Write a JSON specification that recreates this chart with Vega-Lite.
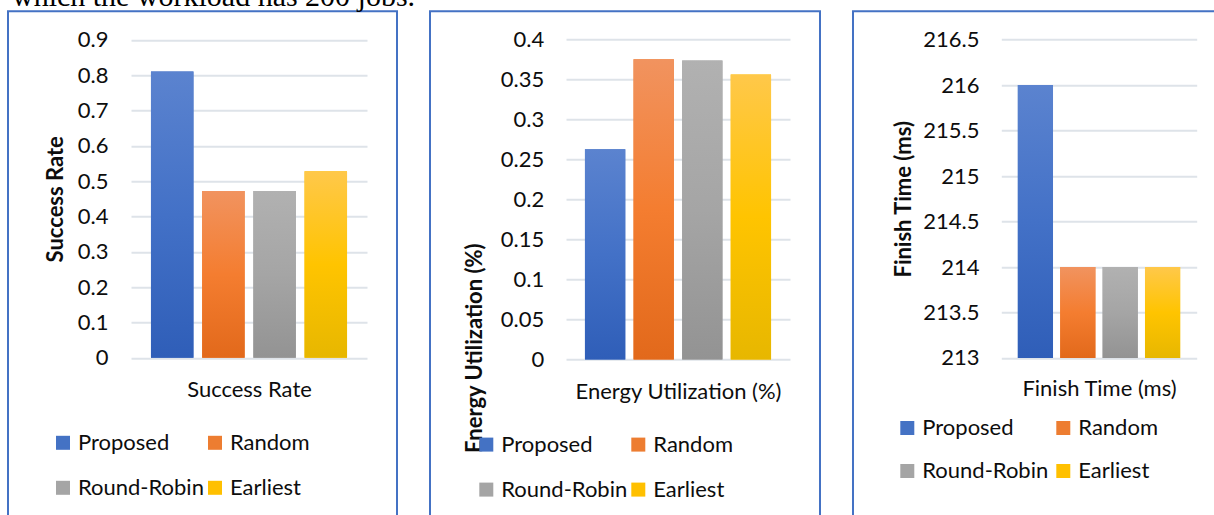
{
  "$schema": "https://vega.github.io/schema/vega-lite/v6.json",
  "padding": {"left": 7, "top": -18.7, "right": 0, "bottom": 0},
  "background": "white",
  "title": {"text": "which the workload has 200 jobs.", "font": "Liberation Serif", "fontSize": 30, "fontWeight": "normal", "color": "#000000", "anchor": "start", "baseline": "top", "offset": -1.3, "dx": 5},
  "datasets": {
    "rows": [
      {"metric": "Success Rate", "method": "Proposed", "value": 0.81},
      {"metric": "Success Rate", "method": "Random", "value": 0.472},
      {"metric": "Success Rate", "method": "Round-Robin", "value": 0.472},
      {"metric": "Success Rate", "method": "Earliest", "value": 0.528},
      {"metric": "Energy Utilization (%)", "method": "Proposed", "value": 0.263},
      {"metric": "Energy Utilization (%)", "method": "Random", "value": 0.3755},
      {"metric": "Energy Utilization (%)", "method": "Round-Robin", "value": 0.374},
      {"metric": "Energy Utilization (%)", "method": "Earliest", "value": 0.3565},
      {"metric": "Finish Time (ms)", "method": "Proposed", "value": 216},
      {"metric": "Finish Time (ms)", "method": "Random", "value": 214},
      {"metric": "Finish Time (ms)", "method": "Round-Robin", "value": 214},
      {"metric": "Finish Time (ms)", "method": "Earliest", "value": 214}
    ]
  },
  "resolve": {"scale": {"color": "independent", "x": "independent", "y": "independent"}, "legend": {"color": "independent"}, "axis": {"x": "independent", "y": "independent"}},
  "spacing": 31,
  "config": {
    "font": "Lato",
    "view": {"stroke": "#4472C4", "strokeWidth": 2},
    "axis": {
      "labelFont": "Lato", "labelFontSize": 22, "labelColor": "#0d0d0d",
      "titleFont": "Lato", "titleFontSize": 22, "titleColor": "#0d0d0d",
      "gridColor": "#DEE3E9", "gridWidth": 2, "domain": false, "ticks": false
    },
    "legend": {
      "labelFont": "Lato", "labelFontSize": 22, "labelColor": "#0d0d0d", "labelLimit": 300,
      "symbolType": "square", "symbolSize": 196, "symbolStrokeWidth": 0, "symbolOpacity": 1,
      "labelOffset": 4, "rowPadding": 23, "padding": 0, "direction": "horizontal"
    }
  },
  "hconcat": [
    {
      "width": 389, "height": 520,
      "data": {"name": "rows"},
      "transform": [{"filter": "datum.metric === 'Success Rate'"}],
      "encoding": {
        "x": {"field": "method", "type": "nominal", "sort": ["Proposed", "Random", "Round-Robin", "Earliest"],
          "scale": {"range": [123, 359], "paddingInner": 0.17, "paddingOuter": 0.39},
          "axis": {"title": "Success Rate", "labels": false, "offset": -173.5, "titleY": 31.5, "titleBaseline": "middle", "titleFontWeight": "normal"}},
        "y": {"field": "value", "type": "quantitative",
          "scale": {"domain": [0, 0.9], "range": [346.5, 28.5], "nice": false},
          "axis": {"title": "Success Rate", "values": [0, 0.1, 0.2, 0.3, 0.4, 0.5, 0.6, 0.7, 0.8, 0.9], "labelExpr": "'' + datum.value", "offset": -100, "labelPadding": 0, "titleX": -53, "titleBaseline": "middle", "titleFontWeight": "bold"}}
      },
      "layer": [
        {"mark": {"type": "bar"},
         "encoding": {"color": {"field": "method", "type": "nominal",
           "scale": {"domain": ["Proposed", "Random", "Round-Robin", "Earliest"], "range": ["#4472C4", "#ED7D31", "#A5A5A5", "#FFC000"]},
           "legend": {"title": null, "orient": "none", "direction": "horizontal", "legendX": 44, "legendY": 420.5, "columns": 2, "columnPadding": 0,
             "encode": {"symbols": {"update": {"fill": {"signal": "datum.value === 'Proposed' ? {gradient: 'linear', x1: 0, y1: 0, x2: 0, y2: 1, stops: [{offset: 0, color: '#5B83CF'}, {offset: 1, color: '#2F5EB8'}]} : datum.value === 'Random' ? {gradient: 'linear', x1: 0, y1: 0, x2: 0, y2: 1, stops: [{offset: 0, color: '#F1935F'}, {offset: 1, color: '#E2691B'}]} : datum.value === 'Round-Robin' ? {gradient: 'linear', x1: 0, y1: 0, x2: 0, y2: 1, stops: [{offset: 0, color: '#B1B1B1'}, {offset: 1, color: '#939393'}]} : {gradient: 'linear', x1: 0, y1: 0, x2: 0, y2: 1, stops: [{offset: 0, color: '#FFC84A'}, {offset: 1, color: '#E7B700'}]}"}}}}}}}},
        {"transform": [{"filter": "datum.method === 'Proposed'"}],
         "mark": {"type": "bar", "color": {"gradient": "linear", "x1": 0, "y1": 0, "x2": 0, "y2": 1, "stops": [{"offset": 0, "color": "#5B83CF"}, {"offset": 0.5, "color": "#4371C7"}, {"offset": 1, "color": "#2F5EB8"}]}}},
        {"transform": [{"filter": "datum.method === 'Random'"}],
         "mark": {"type": "bar", "color": {"gradient": "linear", "x1": 0, "y1": 0, "x2": 0, "y2": 1, "stops": [{"offset": 0, "color": "#F1935F"}, {"offset": 0.5, "color": "#F47D30"}, {"offset": 1, "color": "#E2691B"}]}}},
        {"transform": [{"filter": "datum.method === 'Round-Robin'"}],
         "mark": {"type": "bar", "color": {"gradient": "linear", "x1": 0, "y1": 0, "x2": 0, "y2": 1, "stops": [{"offset": 0, "color": "#B1B1B1"}, {"offset": 0.5, "color": "#A5A5A5"}, {"offset": 1, "color": "#939393"}]}}},
        {"transform": [{"filter": "datum.method === 'Earliest'"}],
         "mark": {"type": "bar", "color": {"gradient": "linear", "x1": 0, "y1": 0, "x2": 0, "y2": 1, "stops": [{"offset": 0, "color": "#FFC84A"}, {"offset": 0.5, "color": "#FFC400"}, {"offset": 1, "color": "#E7B700"}]}}}
      ]
    },
    {
      "width": 390, "height": 520,
      "data": {"name": "rows"},
      "transform": [{"filter": "datum.metric === 'Energy Utilization (%)'"}],
      "encoding": {
        "x": {"field": "method", "type": "nominal", "sort": ["Proposed", "Random", "Round-Robin", "Earliest"],
          "scale": {"range": [136, 360], "paddingInner": 0.17, "paddingOuter": 0.39},
          "axis": {"title": "Energy Utilization (%)", "labels": false, "offset": -171.7, "titleY": 31.7, "titleBaseline": "middle", "titleFontWeight": "normal"}},
        "y": {"field": "value", "type": "quantitative",
          "scale": {"domain": [0, 0.4], "range": [348.3, 28.3], "nice": false},
          "axis": {"title": "Energy Utilization (%)", "values": [0, 0.05, 0.1, 0.15, 0.2, 0.25, 0.3, 0.35, 0.4], "labelExpr": "'' + datum.value", "offset": -113.7, "labelPadding": 0, "titleX": -69.7, "titleY": 336.5, "titleBaseline": "middle", "titleFontWeight": "bold"}}
      },
      "layer": [
        {"mark": {"type": "bar"},
         "encoding": {"color": {"field": "method", "type": "nominal",
           "scale": {"domain": ["Proposed", "Random", "Round-Robin", "Earliest"], "range": ["#4472C4", "#ED7D31", "#A5A5A5", "#FFC000"]},
           "legend": {"title": null, "orient": "none", "direction": "horizontal", "legendX": 45.3, "legendY": 422.3, "columns": 2, "columnPadding": 0,
             "encode": {"symbols": {"update": {"fill": {"signal": "datum.value === 'Proposed' ? {gradient: 'linear', x1: 0, y1: 0, x2: 0, y2: 1, stops: [{offset: 0, color: '#5B83CF'}, {offset: 1, color: '#2F5EB8'}]} : datum.value === 'Random' ? {gradient: 'linear', x1: 0, y1: 0, x2: 0, y2: 1, stops: [{offset: 0, color: '#F1935F'}, {offset: 1, color: '#E2691B'}]} : datum.value === 'Round-Robin' ? {gradient: 'linear', x1: 0, y1: 0, x2: 0, y2: 1, stops: [{offset: 0, color: '#B1B1B1'}, {offset: 1, color: '#939393'}]} : {gradient: 'linear', x1: 0, y1: 0, x2: 0, y2: 1, stops: [{offset: 0, color: '#FFC84A'}, {offset: 1, color: '#E7B700'}]}"}}}}}}}},
        {"transform": [{"filter": "datum.method === 'Proposed'"}],
         "mark": {"type": "bar", "color": {"gradient": "linear", "x1": 0, "y1": 0, "x2": 0, "y2": 1, "stops": [{"offset": 0, "color": "#5B83CF"}, {"offset": 0.5, "color": "#4371C7"}, {"offset": 1, "color": "#2F5EB8"}]}}},
        {"transform": [{"filter": "datum.method === 'Random'"}],
         "mark": {"type": "bar", "color": {"gradient": "linear", "x1": 0, "y1": 0, "x2": 0, "y2": 1, "stops": [{"offset": 0, "color": "#F1935F"}, {"offset": 0.5, "color": "#F47D30"}, {"offset": 1, "color": "#E2691B"}]}}},
        {"transform": [{"filter": "datum.method === 'Round-Robin'"}],
         "mark": {"type": "bar", "color": {"gradient": "linear", "x1": 0, "y1": 0, "x2": 0, "y2": 1, "stops": [{"offset": 0, "color": "#B1B1B1"}, {"offset": 0.5, "color": "#A5A5A5"}, {"offset": 1, "color": "#939393"}]}}},
        {"transform": [{"filter": "datum.method === 'Earliest'"}],
         "mark": {"type": "bar", "color": {"gradient": "linear", "x1": 0, "y1": 0, "x2": 0, "y2": 1, "stops": [{"offset": 0, "color": "#FFC84A"}, {"offset": 0.5, "color": "#FFC400"}, {"offset": 1, "color": "#E7B700"}]}}}
      ]
    },
    {
      "width": 390, "height": 520,
      "data": {"name": "rows"},
      "transform": [{"filter": "datum.metric === 'Finish Time (ms)'"}],
      "encoding": {
        "x": {"field": "method", "type": "nominal", "sort": ["Proposed", "Random", "Round-Robin", "Earliest"],
          "scale": {"range": [148.3, 343.7], "paddingInner": 0.17, "paddingOuter": 0.39},
          "axis": {"title": "Finish Time (ms)", "labels": false, "offset": -173.3, "titleY": 31, "titleBaseline": "middle", "titleFontWeight": "normal"}},
        "y": {"field": "value", "type": "quantitative",
          "scale": {"domain": [213, 216.5], "range": [346.7, 28.3], "nice": false, "zero": false},
          "axis": {"title": "Finish Time (ms)", "values": [213, 213.5, 214, 214.5, 215, 215.5, 216, 216.5], "labelExpr": "'' + datum.value", "offset": -126, "labelPadding": 0, "titleX": -75, "titleBaseline": "middle", "titleFontWeight": "bold"}},
        "y2": {"datum": 213}
      },
      "layer": [
        {"mark": {"type": "bar"},
         "encoding": {"color": {"field": "method", "type": "nominal",
           "scale": {"domain": ["Proposed", "Random", "Round-Robin", "Earliest"], "range": ["#4472C4", "#ED7D31", "#A5A5A5", "#FFC000"]},
           "legend": {"title": null, "orient": "none", "direction": "horizontal", "legendX": 43.3, "legendY": 405.7, "columns": 2, "columnPadding": 4, "rowPadding": 21,
             "encode": {"symbols": {"update": {"fill": {"signal": "datum.value === 'Proposed' ? {gradient: 'linear', x1: 0, y1: 0, x2: 0, y2: 1, stops: [{offset: 0, color: '#5B83CF'}, {offset: 1, color: '#2F5EB8'}]} : datum.value === 'Random' ? {gradient: 'linear', x1: 0, y1: 0, x2: 0, y2: 1, stops: [{offset: 0, color: '#F1935F'}, {offset: 1, color: '#E2691B'}]} : datum.value === 'Round-Robin' ? {gradient: 'linear', x1: 0, y1: 0, x2: 0, y2: 1, stops: [{offset: 0, color: '#B1B1B1'}, {offset: 1, color: '#939393'}]} : {gradient: 'linear', x1: 0, y1: 0, x2: 0, y2: 1, stops: [{offset: 0, color: '#FFC84A'}, {offset: 1, color: '#E7B700'}]}"}}}}}}}},
        {"transform": [{"filter": "datum.method === 'Proposed'"}],
         "mark": {"type": "bar", "color": {"gradient": "linear", "x1": 0, "y1": 0, "x2": 0, "y2": 1, "stops": [{"offset": 0, "color": "#5B83CF"}, {"offset": 0.5, "color": "#4371C7"}, {"offset": 1, "color": "#2F5EB8"}]}}},
        {"transform": [{"filter": "datum.method === 'Random'"}],
         "mark": {"type": "bar", "color": {"gradient": "linear", "x1": 0, "y1": 0, "x2": 0, "y2": 1, "stops": [{"offset": 0, "color": "#F1935F"}, {"offset": 0.5, "color": "#F47D30"}, {"offset": 1, "color": "#E2691B"}]}}},
        {"transform": [{"filter": "datum.method === 'Round-Robin'"}],
         "mark": {"type": "bar", "color": {"gradient": "linear", "x1": 0, "y1": 0, "x2": 0, "y2": 1, "stops": [{"offset": 0, "color": "#B1B1B1"}, {"offset": 0.5, "color": "#A5A5A5"}, {"offset": 1, "color": "#939393"}]}}},
        {"transform": [{"filter": "datum.method === 'Earliest'"}],
         "mark": {"type": "bar", "color": {"gradient": "linear", "x1": 0, "y1": 0, "x2": 0, "y2": 1, "stops": [{"offset": 0, "color": "#FFC84A"}, {"offset": 0.5, "color": "#FFC400"}, {"offset": 1, "color": "#E7B700"}]}}}
      ]
    }
  ]
}
